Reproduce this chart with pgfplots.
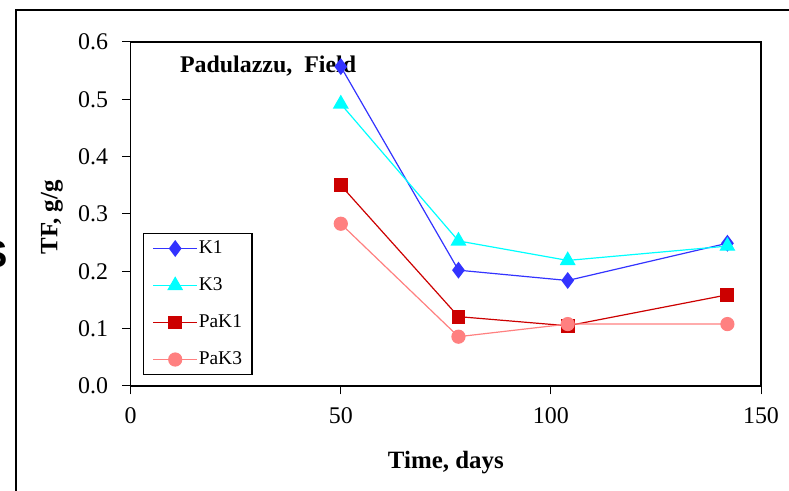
\documentclass[border=0pt]{standalone}
\usepackage{fontspec}
\setmainfont{Liberation Serif}
\setsansfont{Liberation Sans}
\usepackage{pgfplots}
\pgfplotsset{compat=1.18}
\definecolor{kone}{HTML}{3333FF}
\definecolor{kthree}{HTML}{00FFFF}
\definecolor{pakone}{HTML}{CC0000}
\definecolor{pakthree}{HTML}{FF8080}

\begin{document}
\begin{tikzpicture}[x=1bp,y=1bp]
\useasboundingbox (0,0) rectangle (789,491);
\begin{scope}
  \clip (0,0) rectangle (789,491);
  % cut-off letter at the left edge and the outer frame
  \node[font=\sffamily\bfseries\fontsize{38}{38}\selectfont, anchor=east, inner sep=0pt] at (8,237) {S};
  \draw[line width=1.8bp] (16,-5) -- (16,481) -- (800,481);
\end{scope}

\begin{axis}[
  at={(130.7bp,105bp)}, anchor=south west,
  scale only axis, width=630.3bp, height=344bp,
  xmin=0, xmax=150, ymin=0, ymax=0.6,
  xtick={0,50,100,150},
  ytick={0,0.1,0.2,0.3,0.4,0.5,0.6},
  yticklabel style={/pgf/number format/fixed, /pgf/number format/fixed zerofill, /pgf/number format/precision=1},
  /pgf/number format/assume math mode=true,
  tick align=outside, xtick pos=bottom, ytick pos=left,
  major tick length=8.5bp,
  tick style={black, line width=1bp},
  axis line style={black, line width=1.2bp},
  ticklabel style={font=\fontsize{24}{24}\selectfont, black},
  yticklabel style={anchor=east, inner sep=0pt, xshift=-14bp},
  xticklabel style={anchor=north, inner sep=0pt, yshift=-13bp},
  xlabel={Time, days},
  ylabel={TF, g/g},
  xlabel style={font=\bfseries\fontsize{25}{25}\selectfont, at={(rel axis cs:0.5,0)}, anchor=center, yshift=-77bp},
  ylabel style={font=\bfseries\fontsize{25}{25}\selectfont, at={(rel axis cs:-0.1249,0.49)}, anchor=center},
  clip=false,
  legend cell align=left,
  legend style={at={(axis cs:2.93,0.267)}, anchor=north west,
    draw=black, line width=1.2bp, fill=white,
    inner xsep=9bp, inner ysep=5bp, row sep=17bp,
    font=\fontsize{19.5}{20}\selectfont,
    nodes={inner sep=1bp, text height=14bp, text depth=4bp}},
  legend image code/.code={\draw[mark repeat=2, mark phase=2] plot coordinates {(0bp,0bp) (22bp,0bp) (44bp,0bp)};},
]
\addplot[kone, line width=1.2bp, mark=diamond*, mark size=7.5bp, mark options={solid, fill=kone}] coordinates {
  (50,0.557) (78,0.202) (104,0.184) (142,0.249)
};
\addlegendentry{K1}
\addplot[kthree, line width=1.2bp, mark=triangle*, mark size=8bp, mark options={solid, fill=kthree}] coordinates {
  (50,0.492) (78,0.253) (104,0.219) (142,0.244)
};
\addlegendentry{K3}
\addplot[pakone, line width=1.2bp, mark=square*, mark size=6.3bp, mark options={solid, fill=pakone}] coordinates {
  (50,0.350) (78,0.121) (104,0.105) (142,0.159)
};
\addlegendentry{PaK1}
\addplot[pakthree, line width=1.2bp, mark=*, mark size=6.5bp, mark options={solid, fill=pakthree}] coordinates {
  (50,0.283) (78,0.086) (104,0.108) (142,0.108)
};
\addlegendentry{PaK3}

\node[anchor=base west, inner sep=0pt, font=\bfseries\fontsize{24}{24}\selectfont] at (axis cs:11.7,0.546) {Padulazzu,\ \ Field};
\end{axis}
\end{tikzpicture}
\end{document}
